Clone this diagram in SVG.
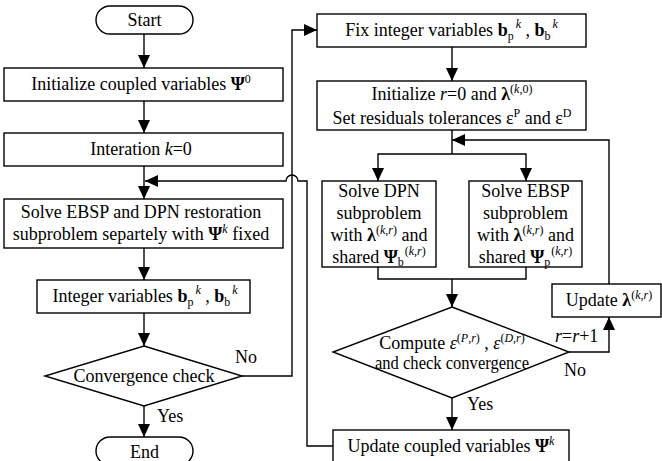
<svg xmlns="http://www.w3.org/2000/svg" width="662" height="461" viewBox="0 0 662 461">
<defs>
<marker id="arrow" markerWidth="13" markerHeight="12" refX="13" refY="6" orient="auto" markerUnits="userSpaceOnUse">
<path d="M0,0 L13,6 L0,12 z" fill="#000"/>
</marker>
<style>
.box{fill:#fff;stroke:#000;stroke-width:1.4}
.ln{fill:none;stroke:#000;stroke-width:1.4}
.arr{fill:none;stroke:#000;stroke-width:1.4;marker-end:url(#arrow)}
text{font-family:"Liberation Serif","Times New Roman",serif;font-size:18px;fill:#000}
.c{text-anchor:middle}
.b{font-weight:bold}
.i{font-style:italic}
.s{font-size:12px}
</style>
</defs>
<rect width="662" height="461" fill="#fff"/>

<!-- connectors -->
<g id="connectors">
<path class="arr" d="M144,34 V68"/>
<path class="arr" d="M144,101 V133"/>
<path class="arr" d="M144,166 V199"/>
<path class="arr" d="M144,248 V280"/>
<path class="arr" d="M144,313 V346"/>
<path class="arr" d="M144,406 V437"/>
<path class="arr" d="M242,376 H292 V30 H317"/>
<path class="arr" d="M452,47 V81"/>
<path class="ln" d="M452,130 V154"/>
<path class="arr" d="M452,154 H378 V181"/>
<path class="arr" d="M452,154 H526 V181"/>
<path class="ln" d="M378,267 V279 H526 V267"/>
<path class="arr" d="M452,279 V307"/>
<path class="arr" d="M452,398 V430"/>
<path class="arr" d="M569,352 H609 V317"/>
<path class="arr" d="M609,284 V140 H452"/>
<path class="arr" d="M333,446 H307 V181 H298 A6,6 0 0 0 286,181 H145"/>
</g>

<g id="start">
<rect class="box" x="96" y="6" width="97" height="28" rx="14"/>
<text class="c" x="144.5" y="26">Start</text>
</g>

<g id="init-coupled">
<rect class="box" x="4" y="68" width="279" height="33"/>
<text class="c" x="141" y="90">Initialize coupled variables <tspan class="b">Ψ</tspan><tspan class="s" dy="-7">0</tspan></text>
</g>

<g id="iteration">
<rect class="box" x="4" y="133" width="279" height="33"/>
<text class="c" x="141" y="155">Interation <tspan class="i">k</tspan>=0</text>
</g>

<g id="solve-both">
<rect class="box" x="4" y="199" width="279" height="49"/>
<text class="c" x="141" y="218">Solve EBSP and DPN restoration</text>
<text class="c" x="141" y="240">subproblem separtely with <tspan class="b">Ψ</tspan><tspan class="s i" dy="-7">k</tspan><tspan dy="7"> fixed</tspan></text>
</g>

<g id="integer-vars">
<rect class="box" x="37" y="280" width="213" height="33"/>
<text class="c" x="145" y="302">Integer variables <tspan class="b">b</tspan><tspan class="s" dy="4">p</tspan><tspan class="s i" dx="2" dy="-12">k</tspan><tspan dy="8"> , </tspan><tspan class="b">b</tspan><tspan class="s" dy="4">b</tspan><tspan class="s i" dx="2" dy="-12">k</tspan></text>
</g>

<g id="convergence">
<polygon class="box" points="144,346 242,376 144,406 45,376"/>
<text class="c" x="144" y="382">Convergence check</text>
</g>

<g id="end">
<rect class="box" x="96" y="437" width="97" height="28" rx="14"/>
<text class="c" x="144.5" y="458">End</text>
</g>

<g id="fix-integer">
<rect class="box" x="317" y="14" width="269" height="33"/>
<text class="c" x="451.5" y="36">Fix integer variables <tspan class="b">b</tspan><tspan class="s" dy="4">p</tspan><tspan class="s i" dx="2" dy="-12">k</tspan><tspan dy="8"> , </tspan><tspan class="b">b</tspan><tspan class="s" dy="4">b</tspan><tspan class="s i" dx="2" dy="-12">k</tspan></text>
</g>

<g id="init-r">
<rect class="box" x="317" y="81" width="269" height="49"/>
<text class="c" x="452" y="100">Initialize <tspan class="i">r</tspan>=0 and  <tspan class="b">λ</tspan><tspan class="s" dy="-7">(</tspan><tspan class="s i">k</tspan><tspan class="s">,0)</tspan></text>
<text class="c" x="452" y="124">Set residuals tolerances ε<tspan class="s" dy="-7">P</tspan><tspan dy="7"> and ε</tspan><tspan class="s" dy="-7">D</tspan></text>
</g>

<g id="solve-dpn">
<rect class="box" x="322" y="181" width="114" height="86"/>
<text class="c" x="379" y="197">Solve DPN</text>
<text class="c" x="379" y="219">subproblem</text>
<text class="c" x="379" y="241">with <tspan class="b">λ</tspan><tspan class="s" dy="-7">(</tspan><tspan class="s i">k</tspan><tspan class="s">,</tspan><tspan class="s i">r</tspan><tspan class="s">)</tspan><tspan dy="7"> and</tspan></text>
<text class="c" x="379" y="263">shared <tspan class="b">Ψ</tspan><tspan class="s" dy="3">b</tspan><tspan class="s" dx="1" dy="-11">(</tspan><tspan class="s i">k</tspan><tspan class="s">,</tspan><tspan class="s i">r</tspan><tspan class="s">)</tspan></text>
</g>

<g id="solve-ebsp">
<rect class="box" x="469" y="181" width="113" height="86"/>
<text class="c" x="525.5" y="197">Solve EBSP</text>
<text class="c" x="525.5" y="219">subproblem</text>
<text class="c" x="525.5" y="241">with <tspan class="b">λ</tspan><tspan class="s" dy="-7">(</tspan><tspan class="s i">k</tspan><tspan class="s">,</tspan><tspan class="s i">r</tspan><tspan class="s">)</tspan><tspan dy="7"> and</tspan></text>
<text class="c" x="525.5" y="263">shared <tspan class="b">Ψ</tspan><tspan class="s" dy="3">p</tspan><tspan class="s" dx="1" dy="-11">(</tspan><tspan class="s i">k</tspan><tspan class="s">,</tspan><tspan class="s i">r</tspan><tspan class="s">)</tspan></text>
</g>

<g id="residual-check">
<polygon class="box" points="452,307 569,352 452,398 333,352"/>
<text class="c" x="452" y="349">Compute <tspan class="i">ε</tspan><tspan class="s" dy="-7">(</tspan><tspan class="s i">P</tspan><tspan class="s">,</tspan><tspan class="s i">r</tspan><tspan class="s">)</tspan><tspan dy="7"> , </tspan><tspan class="i">ε</tspan><tspan class="s" dy="-7">(</tspan><tspan class="s i">D</tspan><tspan class="s">,</tspan><tspan class="s i">r</tspan><tspan class="s">)</tspan></text>
<text class="c" x="452" y="369" textLength="154" lengthAdjust="spacingAndGlyphs">and check convergence</text>
</g>

<g id="update-lambda">
<rect class="box" x="552" y="284" width="109" height="33"/>
<text class="c" x="609" y="306">Update <tspan class="b">λ</tspan><tspan class="s" dy="-7">(</tspan><tspan class="s i">k</tspan><tspan class="s">,</tspan><tspan class="s i">r</tspan><tspan class="s">)</tspan></text>
</g>

<g id="update-coupled">
<rect class="box" x="333" y="430" width="236" height="40"/>
<text class="c" x="451" y="452">Update coupled variables <tspan class="b">Ψ</tspan><tspan class="s i" dy="-7">k</tspan></text>
</g>

<g id="labels">
<text x="235" y="363">No</text>
<text x="157" y="422">Yes</text>
<text x="555" y="342"><tspan class="i">r</tspan>=<tspan class="i">r</tspan>+1</text>
<text x="564" y="376">No</text>
<text x="467" y="410">Yes</text>
</g>
</svg>
